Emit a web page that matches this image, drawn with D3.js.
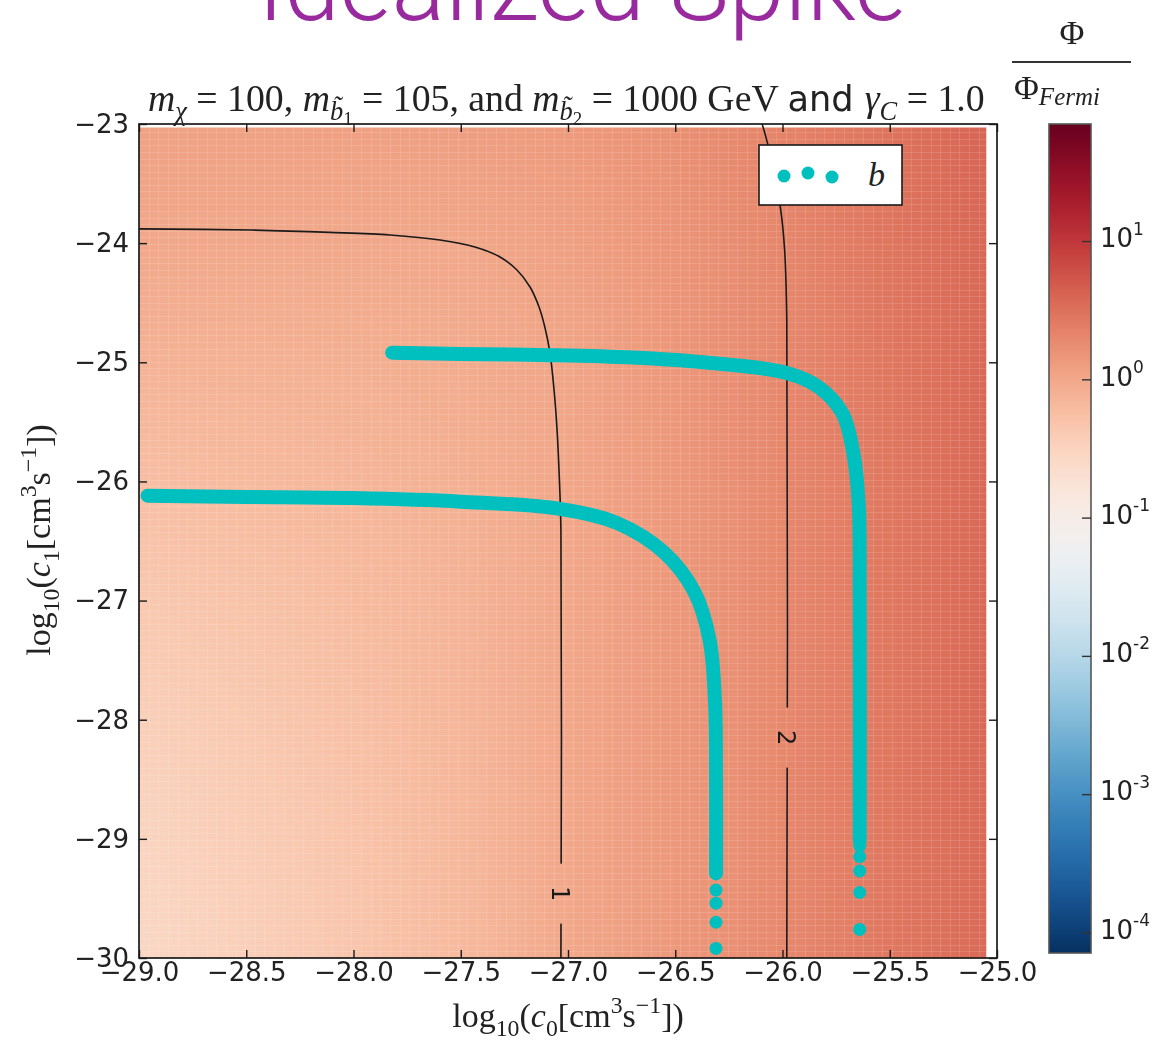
<!DOCTYPE html>
<html>
<head>
<meta charset="utf-8">
<script src="https://cdn.jsdelivr.net/npm/d3@7"></script>
<style>
  html, body { margin: 0; padding: 0; background: #fff; }
  #wrap { position: relative; width: 1159px; height: 1046px; overflow: hidden; }
  #wrap canvas, #wrap svg { position: absolute; left: 0; top: 0; }
</style>
</head>
<body>
<div id="wrap"></div>
<script>
const W = 1159, H = 1046;

// log10(Phi / Phi_Fermi), rows top (-23) to bottom (-30)
const gridX = [-29, -28.5, -28, -27.5, -27, -26.5, -26, -25.5, -25];
const gridY = [-23, -24, -25, -26, -27, -28, -29, -30];
const logRatio = [
  [ 0.06,  0.06,  0.07,  0.09, 0.13, 0.22, 0.34, 0.48, 0.61],
  [-0.01, -0.01, -0.01,  0.00, 0.07, 0.18, 0.31, 0.46, 0.59],
  [-0.12, -0.10, -0.08, -0.04, 0.02, 0.16, 0.30, 0.45, 0.58],
  [-0.25, -0.20, -0.15, -0.08, 0.01, 0.15, 0.30, 0.45, 0.58],
  [-0.36, -0.29, -0.21, -0.12, 0.01, 0.15, 0.30, 0.45, 0.58],
  [-0.45, -0.36, -0.26, -0.15, 0.01, 0.15, 0.30, 0.45, 0.58],
  [-0.52, -0.41, -0.30, -0.17, 0.01, 0.15, 0.30, 0.45, 0.57],
  [-0.57, -0.45, -0.33, -0.19, 0.00, 0.14, 0.29, 0.44, 0.57]
];
const heatExtentX = [-29, -25.05];
const heatExtentY = [-30, -23.03];

// contour lines of Phi/Phi_Fermi
const contour1 = [
  [-29.0, -23.88], [-28.48, -23.89], [-28.11, -23.91], [-27.83, -23.932],
  [-27.597, -23.974], [-27.434, -24.032], [-27.317, -24.116], [-27.238, -24.225],
  [-27.177, -24.368], [-27.135, -24.536], [-27.107, -24.712], [-27.084, -24.922],
  [-27.065, -25.233], [-27.051, -25.569], [-27.042, -25.904], [-27.033, -26.408],
  [-27.033, -30.0]
];
const contour2 = [
  [-26.095, -23.0], [-26.07, -23.16], [-26.01, -23.70], [-25.99, -24.06],
  [-25.98, -24.65], [-25.98, -30.0]
];
const contourLabels = [
  {text: "1", x: -27.033, y: -29.46},
  {text: "2", x: -25.98, y: -28.15}
];

// b scatter bands
const bandLow = [
  [-28.96, -26.12], [-28.5, -26.13], [-28.0, -26.14], [-27.5, -26.17],
  [-27.04, -26.23], [-26.77, -26.35], [-26.55, -26.60], [-26.41, -26.93],
  [-26.34, -27.33], [-26.315, -27.84], [-26.31, -28.5], [-26.31, -29.29]
];
const bandLowTail = [[-26.31, -29.43], [-26.31, -29.54], [-26.31, -29.70], [-26.31, -29.92]];
const bandHigh = [
  [-27.82, -24.92], [-27.5, -24.93], [-27.08, -24.94], [-26.7, -24.96],
  [-26.37, -25.0], [-25.98, -25.09], [-25.83, -25.21], [-25.72, -25.43],
  [-25.67, -25.76], [-25.645, -26.18], [-25.64, -27.0], [-25.64, -29.01]
];
const bandHighTail = [[-25.64, -29.06], [-25.64, -29.15], [-25.64, -29.27], [-25.64, -29.45], [-25.64, -29.76]];

const xTicks = d3.range(-29, -24.99, 0.5);
const yTicks = d3.range(-30, -22.99, 1);
const cbTicks = [1, 0, -1, -2, -3, -4];
const cbDomain = [-4.145, 1.85];

const x = d3.scaleLinear().domain([-29, -25]).range([139, 997]);
const y = d3.scaleLinear().domain([-30, -23]).range([958, 124]);
const color = d3.scaleSequential(t => d3.interpolateRdBu(1 - t)).domain(cbDomain);
const cyan = "#00bfbf";
const ink = "#1a1a1a";
const serif = "Liberation Serif, DejaVu Serif, serif";
const sans = "DejaVu Sans, sans-serif";

const wrap = d3.select("#wrap");

// ---- heat map on a canvas underneath ----
const small = document.createElement("canvas");
small.width = gridX.length;
small.height = gridY.length;
const sctx = small.getContext("2d");
const img = sctx.createImageData(gridX.length, gridY.length);
logRatio.forEach((row, j) => row.forEach((v, i) => {
  const c = d3.rgb(color(v));
  const k = 4 * (j * gridX.length + i);
  img.data[k] = c.r; img.data[k + 1] = c.g; img.data[k + 2] = c.b; img.data[k + 3] = 255;
}));
sctx.putImageData(img, 0, 0);

const canvas = wrap.append("canvas").attr("width", W).attr("height", H).node();
const ctx = canvas.getContext("2d");
const hx0 = x(heatExtentX[0]), hx1 = x(heatExtentX[1]);
const hy0 = y(heatExtentY[1]), hy1 = y(heatExtentY[0]);
ctx.save();
ctx.beginPath();
ctx.rect(hx0, hy0, hx1 - hx0, hy1 - hy0);
ctx.clip();
ctx.imageSmoothingEnabled = true;
const hdx = (gridX[1] - gridX[0]) / 2, hdy = (gridY[0] - gridY[1]) / 2;
const ix0 = x(gridX[0] - hdx), ix1 = x(gridX[gridX.length - 1] + hdx);
const iy0 = y(gridY[0] + hdy), iy1 = y(gridY[gridY.length - 1] - hdy);
ctx.drawImage(small, ix0, iy0, ix1 - ix0, iy1 - iy0);
// faint mesh lines of the pcolormesh
ctx.strokeStyle = "rgba(255,255,255,0.13)";
ctx.lineWidth = 1;
for (const v of d3.range(-29, -25, 0.045)) {
  const px = Math.round(x(v)) + 0.5;
  ctx.beginPath(); ctx.moveTo(px, hy0); ctx.lineTo(px, hy1); ctx.stroke();
}
for (const v of d3.range(-30, -23, 0.055)) {
  const py = Math.round(y(v)) + 0.5;
  ctx.beginPath(); ctx.moveTo(hx0, py); ctx.lineTo(hx1, py); ctx.stroke();
}
ctx.restore();

// ---- svg on top ----
const svg = wrap.append("svg").attr("width", W).attr("height", H);

// gaps for contour labels
const mask = svg.append("defs").append("mask").attr("id", "clabel")
  .attr("maskUnits", "userSpaceOnUse").attr("x", 0).attr("y", 0).attr("width", W).attr("height", H);
mask.append("rect").attr("width", W).attr("height", H).attr("fill", "#fff");
mask.selectAll("rect.gap").data(contourLabels).join("rect").attr("class", "gap")
  .attr("x", d => x(d.x) - 12).attr("y", d => y(d.y) - 30)
  .attr("width", 24).attr("height", 60).attr("fill", "#000");

const cline = d3.line().x(d => x(d[0])).y(d => y(d[1])).curve(d3.curveCatmullRom.alpha(0.5));
svg.append("g").attr("mask", "url(#clabel)")
  .selectAll("path").data([contour1, contour2]).join("path")
  .attr("d", cline).attr("fill", "none").attr("stroke", ink).attr("stroke-width", 1.6);

svg.append("g").selectAll("text").data(contourLabels).join("text")
  .attr("transform", d => `translate(${x(d.x)},${y(d.y)}) rotate(90)`)
  .attr("text-anchor", "middle").attr("dy", "0.36em")
  .attr("font-family", sans).attr("font-size", 24).attr("fill", ink)
  .text(d => d.text);

// cyan bands
svg.append("g").selectAll("path").data([bandLow, bandHigh]).join("path")
  .attr("d", cline).attr("fill", "none").attr("stroke", cyan)
  .attr("stroke-width", 14).attr("stroke-linecap", "round").attr("stroke-linejoin", "round");
svg.append("g").selectAll("circle").data(bandLowTail.concat(bandHighTail)).join("circle")
  .attr("cx", d => x(d[0])).attr("cy", d => y(d[1])).attr("r", 6.5).attr("fill", cyan);

// frame and ticks
function styleAxis(g) {
  g.select(".domain").remove();
  g.selectAll(".tick line").attr("stroke", ink).attr("stroke-width", 1.4);
  g.selectAll(".tick text").attr("font-family", sans).attr("font-size", 26).attr("fill", "#222");
}
svg.append("g").attr("transform", `translate(0,${y(-30)})`)
  .call(d3.axisBottom(x).tickValues(xTicks).tickSize(-8).tickPadding(5).tickFormat(d3.format(".1f")))
  .call(styleAxis);
svg.append("g").attr("transform", `translate(0,${y(-23)})`)
  .call(d3.axisTop(x).tickValues(xTicks).tickSize(-8).tickFormat(""))
  .call(styleAxis);
svg.append("g").attr("transform", `translate(${x(-29)},0)`)
  .call(d3.axisLeft(y).tickValues(yTicks).tickSize(-8).tickPadding(10).tickFormat(d3.format("d")))
  .call(styleAxis);
svg.append("g").attr("transform", `translate(${x(-25)},0)`)
  .call(d3.axisRight(y).tickValues(yTicks).tickSize(-8).tickFormat(""))
  .call(styleAxis);
svg.append("rect").attr("x", x(-29)).attr("y", y(-23))
  .attr("width", x(-25) - x(-29)).attr("height", y(-30) - y(-23))
  .attr("fill", "none").attr("stroke", ink).attr("stroke-width", 1.7);

// legend
const lg = svg.append("g").attr("transform", "translate(759,145)");
lg.append("rect").attr("width", 143).attr("height", 60).attr("fill", "#fff")
  .attr("stroke", ink).attr("stroke-width", 1.6);
lg.selectAll("circle").data([[25, 31], [49, 28], [73, 32]]).join("circle")
  .attr("cx", d => d[0]).attr("cy", d => d[1]).attr("r", 6.5).attr("fill", cyan);
lg.append("text").attr("x", 109).attr("y", 41).attr("font-family", serif)
  .attr("font-style", "italic").attr("font-size", 34).attr("fill", "#222").text("b");

// rich text helper: level 0 normal, 1 subscript, 2 sub-sub, -1 superscript
// relative dy keeps everything in one text chunk so text-anchor works
function rich(textSel, parts, fs) {
  const shift = {0: 0, 1: 0.25, 2: 0.38, "-1": -0.4};
  const size = {0: 1, 1: 0.7, 2: 0.5, "-1": 0.7};
  let prev = 0;
  parts.forEach(p => {
    const lv = p.lv || 0;
    const s = shift[lv] * fs;
    textSel.append("tspan")
      .attr("dy", s - prev)
      .attr("font-size", (p.sans ? 0.93 : 1) * size[lv] * fs)
      .attr("font-style", p.it ? "italic" : null)
      .attr("font-family", p.sans ? sans : null)
      .text(p.t);
    prev = s;
  });
}

// subtitle
const subParts = [
  {t: "m", it: true}, {t: "χ", it: true, lv: 1}, {t: " = 100, "},
  {t: "m", it: true}, {t: "b̃", it: true, lv: 1}, {t: "1", lv: 2}, {t: " = 105, and "},
  {t: "m", it: true}, {t: "b̃", it: true, lv: 1}, {t: "2", lv: 2}, {t: " = 1000 GeV "},
  {t: "and ", sans: true}, {t: "γ", it: true}, {t: "C", it: true, lv: 1}, {t: " = 1.0"}
];
const subG = svg.append("g").attr("transform", "translate(148,111)");
let subText = subG.append("text").attr("font-family", serif).attr("fill", "#222");
rich(subText, subParts, 30);
const subW = subText.node().getBBox().width;
subText.remove();
subText = subG.append("text").attr("font-family", serif).attr("fill", "#222");
rich(subText, subParts, 30 * 837 / subW);

// axis labels
const xLabParts = [
  {t: "log"}, {t: "10", lv: 1}, {t: "("}, {t: "c", it: true}, {t: "0", lv: 1},
  {t: "[cm"}, {t: "3", lv: -1}, {t: "s"}, {t: "−1", lv: -1}, {t: "])"}
];
const yLabParts = [
  {t: "log"}, {t: "10", lv: 1}, {t: "("}, {t: "c", it: true}, {t: "1", lv: 1},
  {t: "[cm"}, {t: "3", lv: -1}, {t: "s"}, {t: "−1", lv: -1}, {t: "])"}
];
rich(svg.append("g").attr("transform", "translate(568,1027)")
  .append("text").attr("text-anchor", "middle").attr("font-family", serif).attr("fill", "#222"),
  xLabParts, 34);
rich(svg.append("g").attr("transform", "translate(50,540) rotate(-90)")
  .append("text").attr("text-anchor", "middle").attr("font-family", serif).attr("fill", "#222"),
  yLabParts, 34);

// colorbar
const cy = d3.scaleLinear().domain(cbDomain).range([953, 124]);
const grad = svg.select("defs").append("linearGradient").attr("id", "cbgrad")
  .attr("x1", 0).attr("y1", 1).attr("x2", 0).attr("y2", 0);
grad.selectAll("stop").data(d3.range(0, 1.0001, 0.02)).join("stop")
  .attr("offset", d => d)
  .attr("stop-color", d => color(cbDomain[0] + d * (cbDomain[1] - cbDomain[0])));
svg.append("rect").attr("x", 1049).attr("y", 124).attr("width", 42).attr("height", 829)
  .attr("fill", "url(#cbgrad)").attr("stroke", "#555").attr("stroke-width", 1.6);
const cbt = svg.append("g").selectAll("g").data(cbTicks).join("g")
  .attr("transform", d => `translate(1091,${cy(d)})`);
cbt.append("line").attr("x1", -9).attr("x2", 0).attr("stroke", "#333").attr("stroke-width", 1.4);
const cbl = cbt.append("text").attr("x", 9).attr("dy", "0.36em")
  .attr("font-family", sans).attr("fill", "#222");
cbl.append("tspan").attr("font-size", 26).text("10");
cbl.append("tspan").attr("font-size", 17).attr("dy", "-0.75em")
  .text(d => d < 0 ? "-" + (-d) : String(d));

// colorbar title: Phi over Phi_Fermi
svg.append("text").attr("x", 1072).attr("y", 44).attr("text-anchor", "middle")
  .attr("font-family", serif).attr("font-size", 34).attr("fill", "#222").text("Φ");
svg.append("line").attr("x1", 1012).attr("x2", 1131).attr("y1", 62).attr("y2", 62)
  .attr("stroke", "#333").attr("stroke-width", 2);
const fermi = svg.append("text").attr("x", 1014).attr("y", 99)
  .attr("font-family", serif).attr("font-size", 34).attr("fill", "#222");
fermi.append("tspan").text("Φ");
fermi.append("tspan").attr("font-size", 25).attr("font-style", "italic").attr("dy", 6).text("Fermi");

// big title, cut off at the top edge
svg.append("text").attr("x", 582).attr("y", 20).attr("text-anchor", "middle")
  .attr("font-family", "Roboto, Lato, sans-serif").attr("font-weight", 300)
  .attr("font-size", 100).attr("fill", "#982a9e").text("Idealized Spike");
</script>
</body>
</html>
